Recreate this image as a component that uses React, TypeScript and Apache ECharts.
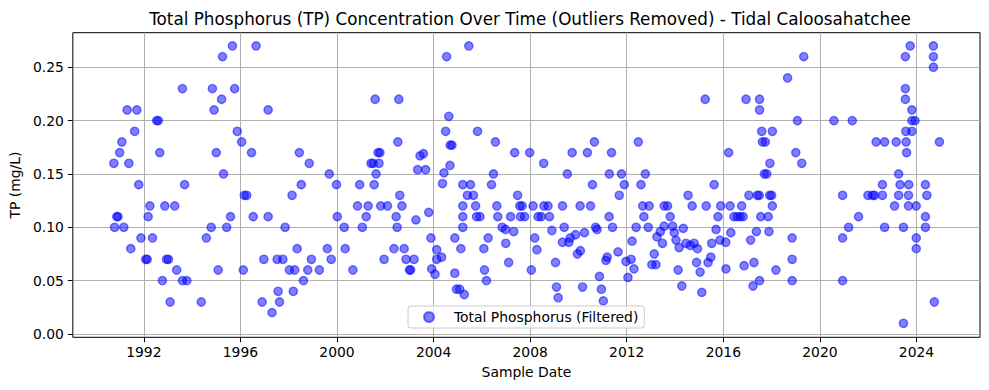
import React, { useEffect, useRef } from "react";
import * as echarts from "echarts";

// Decimal sample year, TP (mg/L)
const samples1990s: [number, number][] = [
  [1990.76, 0.16], [1990.79, 0.10], [1990.88, 0.11], [1990.93, 0.11], [1991.0, 0.17], [1991.09, 0.18],
  [1991.17, 0.10], [1991.31, 0.21], [1991.38, 0.16], [1991.46, 0.08], [1991.62, 0.19], [1991.71, 0.21],
  [1991.79, 0.14], [1991.88, 0.09], [1992.08, 0.07], [1992.14, 0.07], [1992.18, 0.11], [1992.25, 0.12],
  [1992.36, 0.09], [1992.53, 0.20], [1992.6, 0.20], [1992.66, 0.17], [1992.77, 0.05], [1992.87, 0.12],
  [1992.94, 0.07], [1993.02, 0.07], [1993.09, 0.03], [1993.28, 0.12], [1993.36, 0.06], [1993.6, 0.05],
  [1993.6, 0.23], [1993.69, 0.14], [1993.78, 0.05], [1994.38, 0.03], [1994.59, 0.09], [1994.79, 0.10],
  [1994.84, 0.23], [1994.91, 0.21], [1995.0, 0.17], [1995.08, 0.06], [1995.22, 0.22], [1995.26, 0.26],
  [1995.30, 0.15], [1995.43, 0.10], [1995.59, 0.11], [1995.67, 0.27], [1995.76, 0.23], [1995.87, 0.19],
  [1996.05, 0.18], [1996.12, 0.06], [1996.16, 0.13], [1996.26, 0.13], [1996.46, 0.17], [1996.53, 0.11],
  [1996.65, 0.27], [1996.9, 0.03], [1996.97, 0.07], [1997.15, 0.11], [1997.15, 0.21], [1997.31, 0.02],
  [1997.52, 0.07], [1997.56, 0.04], [1997.62, 0.03], [1997.76, 0.07], [1997.85, 0.10], [1998.03, 0.06],
  [1998.14, 0.13], [1998.19, 0.04], [1998.25, 0.06], [1998.35, 0.08], [1998.44, 0.17], [1998.52, 0.14],
  [1998.61, 0.05], [1998.79, 0.06], [1998.85, 0.16], [1998.94, 0.07], [1999.27, 0.06], [1999.6, 0.08],
  [1999.68, 0.15], [1999.76, 0.07], [1999.98, 0.14],
];

const samples2000s: [number, number][] = [
  [2000.01, 0.11], [2000.3, 0.10], [2000.34, 0.08], [2000.66, 0.06], [2000.85, 0.12], [2000.94, 0.14],
  [2001.05, 0.10], [2001.21, 0.11], [2001.29, 0.12], [2001.41, 0.16], [2001.5, 0.16], [2001.54, 0.14],
  [2001.58, 0.22], [2001.62, 0.15], [2001.7, 0.17], [2001.78, 0.17], [2001.74, 0.16], [2001.81, 0.12],
  [2001.95, 0.07], [2002.09, 0.12], [2002.36, 0.08], [2002.45, 0.11], [2002.49, 0.10], [2002.52, 0.18],
  [2002.56, 0.22], [2002.6, 0.13], [2002.69, 0.12], [2002.78, 0.08], [2002.86, 0.07], [2003.0, 0.06],
  [2003.05, 0.06], [2003.19, 0.07], [2003.27, 0.107], [2003.34, 0.154], [2003.44, 0.167], [2003.58, 0.169],
  [2003.67, 0.154], [2003.8, 0.114], [2003.89, 0.09], [2003.92, 0.061], [2004.06, 0.056], [2004.13, 0.079],
  [2004.13, 0.07], [2004.33, 0.072], [2004.37, 0.141], [2004.43, 0.151], [2004.5, 0.19], [2004.54, 0.26],
  [2004.63, 0.204], [2004.68, 0.158], [2004.69, 0.177], [2004.76, 0.177], [2004.88, 0.09], [2004.88, 0.057],
  [2004.95, 0.042], [2005.08, 0.042], [2005.13, 0.08], [2005.21, 0.14], [2005.21, 0.12], [2005.21, 0.11],
  [2005.21, 0.10], [2005.27, 0.037], [2005.4, 0.13], [2005.46, 0.27], [2005.53, 0.14], [2005.65, 0.13],
  [2005.74, 0.12], [2005.78, 0.11], [2005.82, 0.19], [2005.92, 0.11], [2006.08, 0.08], [2006.11, 0.06],
  [2006.19, 0.05], [2006.26, 0.09], [2006.4, 0.14], [2006.48, 0.15], [2006.56, 0.18], [2006.62, 0.12],
  [2006.66, 0.11], [2006.84, 0.10], [2006.98, 0.098], [2006.99, 0.085], [2007.11, 0.067], [2007.19, 0.11],
  [2007.32, 0.096], [2007.36, 0.17], [2007.48, 0.13], [2007.57, 0.12], [2007.67, 0.12], [2007.6, 0.11],
  [2007.77, 0.11], [2007.98, 0.17], [2008.05, 0.06], [2008.12, 0.12], [2008.19, 0.09], [2008.28, 0.079],
  [2008.33, 0.11], [2008.46, 0.11], [2008.56, 0.16], [2008.57, 0.12], [2008.74, 0.12], [2008.8, 0.11],
  [2008.9, 0.097], [2009.05, 0.067], [2009.09, 0.044], [2009.16, 0.034], [2009.34, 0.12], [2009.34, 0.086],
  [2009.41, 0.10], [2009.54, 0.15], [2009.6, 0.086], [2009.66, 0.09], [2009.74, 0.17], [2009.88, 0.093],
  [2009.96, 0.075],
];

const samples2010s: [number, number][] = [
  [2010.07, 0.12], [2010.08, 0.078], [2010.17, 0.044], [2010.25, 0.095], [2010.37, 0.17], [2010.5, 0.12],
  [2010.58, 0.14], [2010.66, 0.18], [2010.71, 0.10], [2010.77, 0.098], [2010.87, 0.054], [2010.95, 0.042],
  [2011.03, 0.031], [2011.14, 0.069], [2011.19, 0.072], [2011.27, 0.11], [2011.28, 0.15], [2011.37, 0.17],
  [2011.41, 0.10], [2011.64, 0.077], [2011.69, 0.13], [2011.78, 0.15], [2011.9, 0.14], [2011.97, 0.068],
  [2012.05, 0.053], [2012.18, 0.07], [2012.22, 0.087], [2012.3, 0.061], [2012.39, 0.10], [2012.48, 0.18],
  [2012.59, 0.14], [2012.66, 0.12], [2012.71, 0.11], [2012.77, 0.15], [2012.89, 0.10], [2012.93, 0.12],
  [2013.04, 0.065], [2013.14, 0.075], [2013.21, 0.065], [2013.25, 0.091], [2013.39, 0.096], [2013.48, 0.085],
  [2013.55, 0.12], [2013.55, 0.101], [2013.69, 0.12], [2013.8, 0.11], [2013.9, 0.101], [2013.97, 0.095],
  [2014.04, 0.088], [2014.13, 0.06], [2014.17, 0.081], [2014.28, 0.045], [2014.34, 0.099], [2014.45, 0.085],
  [2014.54, 0.13], [2014.63, 0.083], [2014.71, 0.12], [2014.79, 0.085], [2014.89, 0.067], [2014.93, 0.08],
  [2015.04, 0.058], [2015.11, 0.039], [2015.25, 0.22], [2015.29, 0.12], [2015.37, 0.067], [2015.48, 0.072],
  [2015.52, 0.085], [2015.62, 0.14], [2015.7, 0.098], [2015.78, 0.11], [2015.86, 0.088], [2015.89, 0.12],
  [2016.1, 0.086], [2016.11, 0.061], [2016.22, 0.17], [2016.28, 0.12], [2016.31, 0.095], [2016.44, 0.11],
  [2016.58, 0.11], [2016.7, 0.11], [2016.82, 0.11], [2016.76, 0.12], [2016.86, 0.064], [2016.94, 0.22],
  [2017.06, 0.13], [2017.13, 0.088], [2017.23, 0.045], [2017.27, 0.067], [2017.37, 0.096], [2017.41, 0.13],
  [2017.49, 0.13], [2017.5, 0.22], [2017.5, 0.21], [2017.5, 0.05], [2017.55, 0.11], [2017.59, 0.19],
  [2017.62, 0.18], [2017.74, 0.18], [2017.7, 0.15], [2017.8, 0.15], [2017.92, 0.13], [2018.0, 0.13],
  [2017.86, 0.11], [2017.89, 0.096], [2017.93, 0.16], [2018.03, 0.19], [2018.03, 0.12], [2018.18, 0.06],
  [2018.66, 0.24], [2018.85, 0.09], [2018.85, 0.07], [2018.85, 0.05], [2019.0, 0.17], [2019.07, 0.20],
  [2019.25, 0.16], [2019.33, 0.26],
];

const samples2020s: [number, number][] = [
  [2020.58, 0.20], [2020.94, 0.13], [2020.94, 0.09], [2020.94, 0.05], [2021.19, 0.10], [2021.34, 0.20],
  [2021.6, 0.11], [2021.99, 0.13], [2022.18, 0.13], [2022.26, 0.13], [2022.33, 0.18], [2022.59, 0.14],
  [2022.59, 0.13], [2022.68, 0.18], [2022.68, 0.10], [2023.09, 0.12], [2023.16, 0.18], [2023.26, 0.15],
  [2023.26, 0.13], [2023.32, 0.14], [2023.46, 0.10], [2023.46, 0.01], [2023.54, 0.26], [2023.54, 0.23],
  [2023.54, 0.22], [2023.56, 0.19], [2023.57, 0.18], [2023.59, 0.17], [2023.67, 0.13], [2023.67, 0.12],
  [2023.68, 0.14], [2023.74, 0.27], [2023.81, 0.21], [2023.81, 0.20], [2023.81, 0.19], [2023.94, 0.20],
  [2023.99, 0.12], [2023.99, 0.09], [2023.99, 0.08], [2024.37, 0.14], [2024.37, 0.11], [2024.37, 0.10],
  [2024.43, 0.13], [2024.7, 0.27], [2024.7, 0.26], [2024.7, 0.25], [2024.74, 0.03], [2024.95, 0.18],
];

const yearTicks = [1992, 1996, 2000, 2004, 2008, 2012, 2016, 2020, 2024];
const tpTicks = [0, 0.05, 0.1, 0.15, 0.2, 0.25];

const FONT = "DejaVu Sans";

export default function App() {
  const ref = useRef<HTMLDivElement>(null);
  useEffect(() => {
    if (!ref.current) return;
    const chart = echarts.init(ref.current, null, { renderer: "svg" });
    const data = [...samples1990s, ...samples2000s, ...samples2010s, ...samples2020s];
    chart.setOption({
      animation: false,
      backgroundColor: "#fff",
      textStyle: { fontFamily: FONT },
      title: {
        text: "Total Phosphorus (TP) Concentration Over Time (Outliers Removed) - Tidal Caloosahatchee",
        left: 525,
        top: 5,
        textAlign: "center",
        textStyle: { fontFamily: FONT, fontSize: 16.8, fontWeight: "normal", color: "#000" },
      },
      grid: {
        left: 70,
        top: 32.7,
        width: 910,
        height: 304.6,
        show: true,
        borderColor: "#000",
        borderWidth: 1,
        backgroundColor: "transparent",
      },
      legend: {
        left: 408,
        top: 306,
        padding: [4, 6, 4, 15],
        itemWidth: 10,
        itemHeight: 10,
        borderColor: "#cccccc",
        borderWidth: 1,
        borderRadius: 3,
        backgroundColor: "rgba(255,255,255,0.8)",
        textStyle: { fontFamily: FONT, fontSize: 13.9, color: "#000", padding: [0, 0, 0, 15] },
      },
      xAxis: {
        type: "value",
        min: 1989.06,
        max: 2026.63,
        name: "Sample Date",
        nameLocation: "middle",
        nameGap: 28,
        nameTextStyle: { fontFamily: FONT, fontSize: 13.9, color: "#000" },
        axisLine: { show: false, onZero: false },
        axisTick: { show: true, customValues: yearTicks, length: 5, lineStyle: { color: "#000", width: 1 } },
        axisLabel: {
          customValues: yearTicks,
          formatter: (v: number) => String(Math.round(v)),
          fontFamily: FONT,
          fontSize: 13.9,
          color: "#000",
          margin: 8,
        },
        splitLine: { show: true, lineStyle: { color: "#b0b0b0", width: 1 } },
      },
      yAxis: {
        type: "value",
        min: -0.0031,
        max: 0.2824,
        name: "TP (mg/L)",
        nameLocation: "middle",
        nameGap: 46,
        nameTextStyle: { fontFamily: FONT, fontSize: 13.9, color: "#000" },
        axisLine: { show: false, onZero: false },
        axisTick: { show: true, customValues: tpTicks, length: 5, lineStyle: { color: "#000", width: 1 } },
        axisLabel: {
          customValues: tpTicks,
          formatter: (v: number) => v.toFixed(2),
          fontFamily: FONT,
          fontSize: 13.9,
          color: "#000",
          margin: 9,
        },
        splitLine: { show: true, lineStyle: { color: "#b0b0b0", width: 1 } },
      },
      series: [
        {
          type: "scatter",
          name: "Total Phosphorus (Filtered)",
          data,
          symbol: "circle",
          symbolSize: 8.3,
          itemStyle: {
            color: "rgba(0,0,255,0.5)",
            borderColor: "rgba(0,0,255,0.5)",
            borderWidth: 1.4,
            opacity: 1,
          },
          emphasis: { disabled: true },
        },
      ],
    });
    return () => chart.dispose();
  }, []);
  return (
    <div
      ref={ref}
      style={{ position: "fixed", left: 0, top: 0, width: 989, height: 390, background: "#fff" }}
    />
  );
}
